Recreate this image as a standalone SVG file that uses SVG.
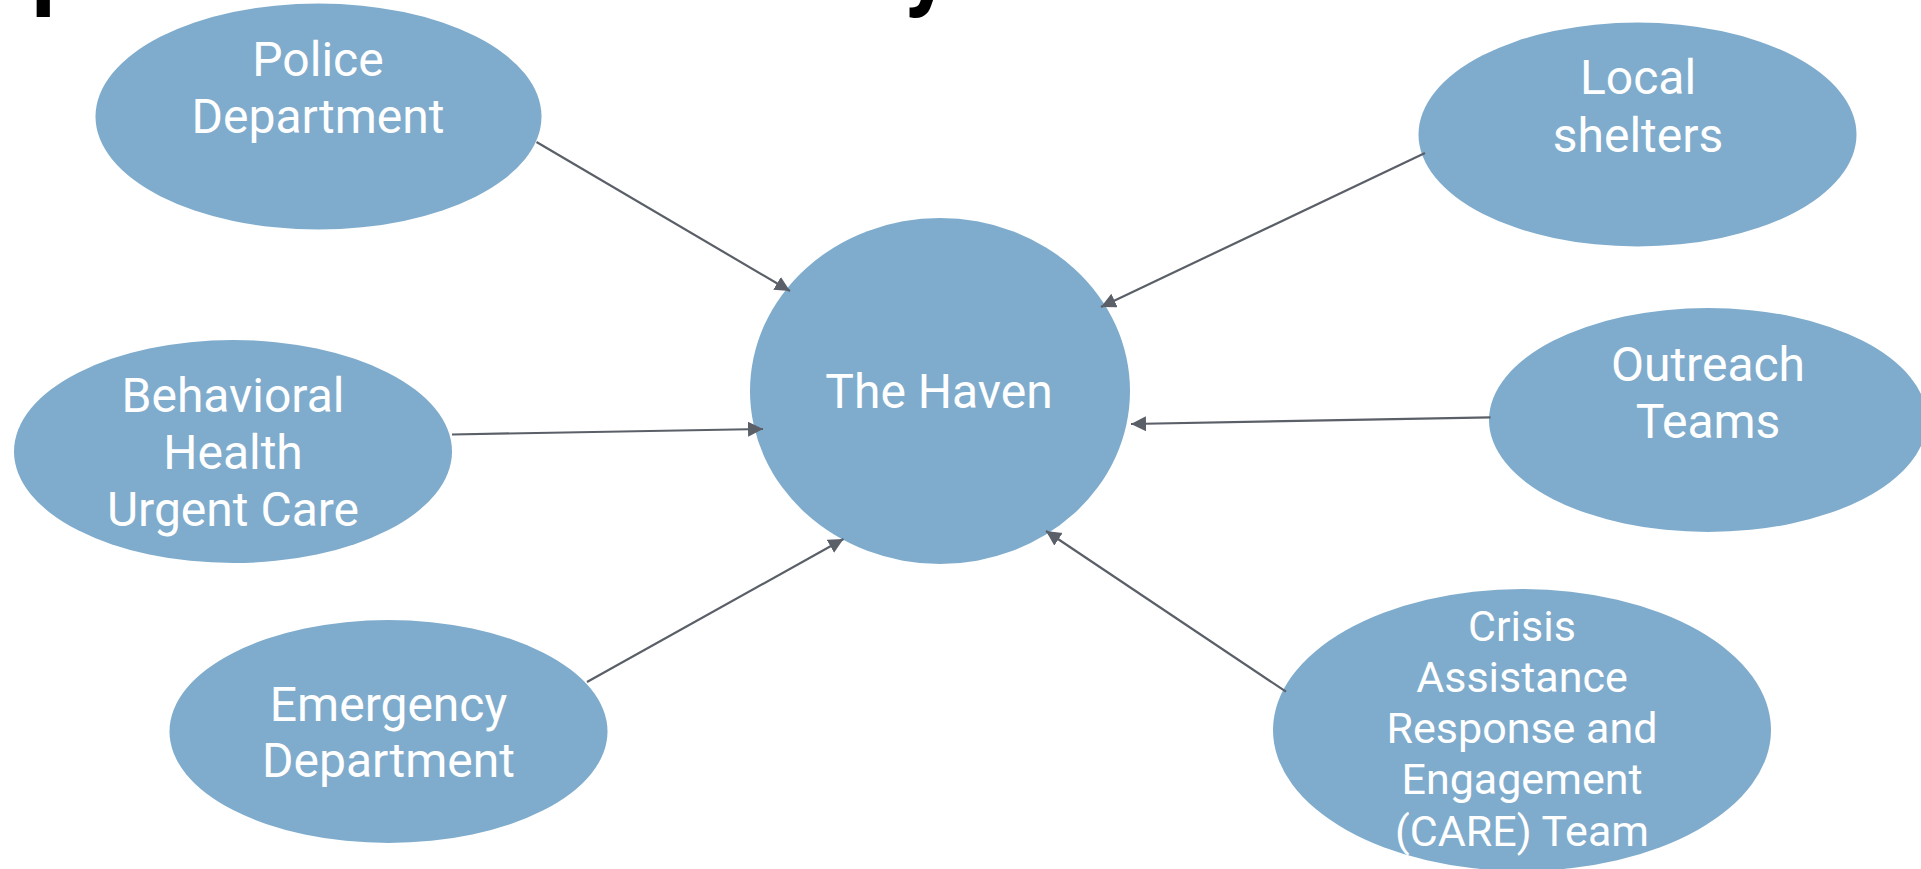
<svg xmlns="http://www.w3.org/2000/svg" width="1921" height="869" viewBox="0 0 1921 869">
<style>
.node ellipse { fill: #7FACCC; }
.node text { fill: #FFFFFF; font-family: Roboto, "Liberation Sans", sans-serif; font-size: 48px; text-anchor: middle; }
.node text.small { font-size: 43px; }
.conn line { stroke: #5A5F68; stroke-width: 2.2; fill: none; marker-end: url(#arr); }
.title { fill: #000000; font-family: Roboto, "Liberation Sans", sans-serif; font-weight: bold; font-size: 94px; }
</style>
<defs>
<marker id="arr" markerUnits="userSpaceOnUse" markerWidth="16" markerHeight="16" refX="15" refY="7.5" orient="auto">
<path d="M0,0 L15,7.5 L0,15 Z" fill="#5A5F68"/>
</marker>
</defs>
<rect width="1921" height="869" fill="#FFFFFF"/>
<g id="title">
<text class="title" y="-2"><tspan x="31.5">p</tspan><tspan x="904">y</tspan></text>
</g>
<g id="police" class="node">
<ellipse cx="318.5" cy="116.5" rx="223" ry="113"/>
<text x="318" y="76">Police</text>
<text x="318" y="133">Department</text>
</g>
<g id="shelters" class="node">
<ellipse cx="1637.5" cy="134.5" rx="219" ry="112"/>
<text x="1638" y="94">Local</text>
<text x="1638" y="151.5">shelters</text>
</g>
<g id="behavioral" class="node">
<ellipse cx="233" cy="451.5" rx="219" ry="111.5"/>
<text x="233" y="411.5">Behavioral</text>
<text x="233" y="469">Health</text>
<text x="233" y="526">Urgent Care</text>
</g>
<g id="haven" class="node">
<ellipse cx="940" cy="391" rx="190" ry="173"/>
<text x="939" y="408">The Haven</text>
</g>
<g id="outreach" class="node">
<ellipse cx="1708" cy="420" rx="219" ry="112"/>
<text x="1708" y="380.5">Outreach</text>
<text x="1708" y="437.5">Teams</text>
</g>
<g id="emergency" class="node">
<ellipse cx="388.5" cy="731.5" rx="219" ry="111.5"/>
<text x="388.5" y="721">Emergency</text>
<text x="388.5" y="776.5">Department</text>
</g>
<g id="care" class="node">
<ellipse cx="1522" cy="730" rx="249" ry="141"/>
<text class="small" x="1522" y="641">Crisis</text>
<text class="small" x="1522" y="692">Assistance</text>
<text class="small" x="1522" y="743">Response and</text>
<text class="small" x="1522" y="794">Engagement</text>
<text class="small" x="1522" y="845.5">(CARE) Team</text>
</g>
<g id="connectors" class="conn">
<line x1="536.5" y1="142" x2="790" y2="291"/>
<line x1="452" y1="434.5" x2="763" y2="429"/>
<line x1="587" y1="682" x2="843.5" y2="539"/>
<line x1="1425" y1="153" x2="1101" y2="307"/>
<line x1="1490.5" y1="417.3" x2="1131" y2="424"/>
<line x1="1286" y1="691.7" x2="1046" y2="531"/>
</g>
</svg>
